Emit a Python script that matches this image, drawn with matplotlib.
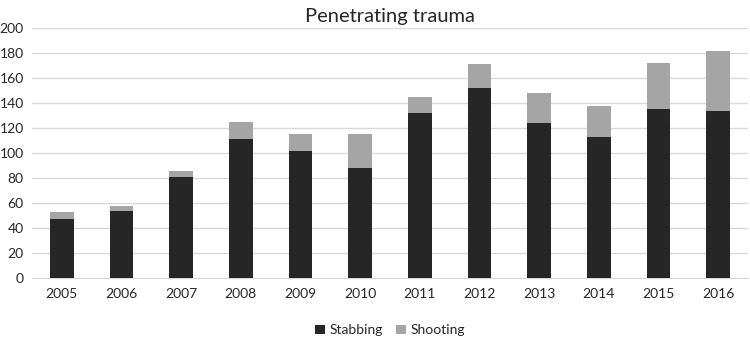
import matplotlib
matplotlib.use("Agg")
import matplotlib.pyplot as plt
import numpy as np

years = ["2005", "2006", "2007", "2008", "2009", "2010", "2011", "2012", "2013", "2014", "2015", "2016"]
stabbing = [47, 54, 81, 111, 102, 88, 132, 152, 124, 113, 135, 134]
shooting = [6, 4, 5, 14, 13, 27, 13, 19, 24, 25, 37, 48]

plt.rcParams['font.family'] = ['Lato', 'DejaVu Sans']

fig = plt.figure(figsize=(7.5, 3.4), dpi=100)
ax = fig.add_axes([32/750, 62/340, 716/750, 250/340])

x = np.arange(len(years))
ax.bar(x, stabbing, width=0.4, color="#262626", label="Stabbing", zorder=3)
ax.bar(x, shooting, width=0.4, bottom=stabbing, color="#a5a5a5", label="Shooting", zorder=3)

ax.set_xlim(-0.5, len(years) - 0.5)
ax.set_ylim(0, 200)
ax.set_yticks(range(0, 201, 20))
ax.set_xticks(x)
ax.set_xticklabels(years)
ax.grid(axis="y", color="#d9d9d9", linewidth=1, zorder=0)
for s in ["top", "right", "left"]:
    ax.spines[s].set_visible(False)
ax.spines["bottom"].set_color("#d9d9d9")
ax.tick_params(axis="both", length=0, labelsize=10, colors="#262626")
ax.tick_params(axis="x", pad=7)
ax.tick_params(axis="y", pad=6)

ax.set_title("Penetrating trauma", fontsize=14.5, color="#262626", pad=4)
ax.legend(loc="upper center", bbox_to_anchor=(0.5, -0.135), ncol=2, frameon=False,
          fontsize=10, handlelength=0.7, handleheight=0.7, columnspacing=1.0, handletextpad=0.3,
          labelcolor="#262626")

fig.savefig("out.png", dpi=100)
